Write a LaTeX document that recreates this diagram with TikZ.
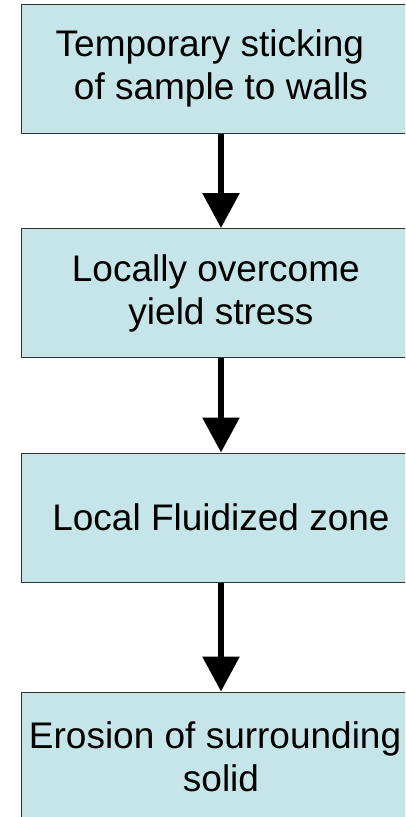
\documentclass[tikz,border=0pt]{standalone}
\usepackage{fontspec}
\setmainfont{Liberation Sans}
\usetikzlibrary{arrows.meta,positioning}
\definecolor{boxfill}{RGB}{197,229,232}

\begin{document}
\begin{tikzpicture}[x=1pt,y=-1pt,
        stage/.style={draw=black!80,line width=1pt,fill=boxfill,
          minimum width=400pt,minimum height=129pt,inner sep=0pt,
          align=center,font=\fontsize{37}{43}\selectfont},
        flow/.style={line width=6pt,-{Triangle[width=36pt,length=35pt]}}]
        \useasboundingbox (0,0) rectangle (405,817);
        \clip (0,0) rectangle (405,817);

        % Stages of the process.
        \node[stage] (stick) at (221,68.5) {Temporary sticking\hspace*{.6em}\\of sample to walls};
        \node[stage] (yield) at (221,293) {Locally overcome\hspace*{.28em}\\yield stress};
        \node[stage] (fluid) at (221,517.5) {Local Fluidized zone};
        \node[stage] (erode) at (221,756.5) {Erosion of surrounding\hspace*{.32em}\\solid};

        % Arrows from stage to stage.
        \draw[flow] (stick) -- (yield);
        \draw[flow] (yield) -- (fluid);
        \draw[flow] (fluid) -- (erode);
      \end{tikzpicture}
\end{document}
